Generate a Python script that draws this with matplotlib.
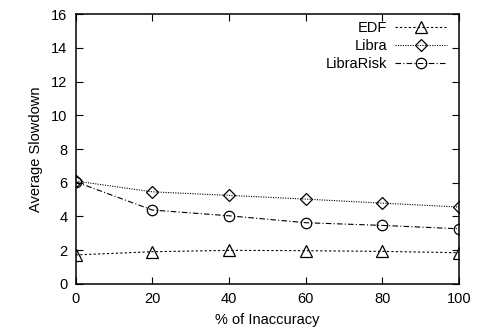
import matplotlib
matplotlib.use("Agg")
import matplotlib.pyplot as plt

plt.rcParams["font.family"] = ["Liberation Sans", "DejaVu Sans"]

# % of inaccuracy
inaccuracy = [0, 20, 40, 60, 80, 100]
edf = [1.72, 1.91, 1.99, 1.97, 1.93, 1.85]
libra = [6.10, 5.46, 5.25, 5.03, 4.79, 4.56]
libra_risk = [6.05, 4.38, 4.04, 3.63, 3.47, 3.27]

fig = plt.figure(figsize=(4.8, 3.36), dpi=100)
ax = fig.add_axes([0.158, 0.155, 0.798, 0.803])

common = dict(color="black", lw=0.8, markerfacecolor="none", markeredgecolor="black",
              markeredgewidth=0.9)
ax.plot(inaccuracy, edf, linestyle=(0, (2, 2)), marker="^", markersize=8,
        label="EDF", **common)
ax.plot(inaccuracy, libra, linestyle=(0, (1, 1.2)), marker="D", markersize=6,
        label="Libra", **common)
ax.plot(inaccuracy, libra_risk, linestyle=(0, (5, 2, 1, 2)), marker="o", markersize=7.5,
        label="LibraRisk", **common)

ax.set_xlim(0, 100)
ax.set_ylim(0, 16)
ax.set_xticks(inaccuracy)
ax.set_yticks(range(0, 17, 2))
ax.tick_params(direction="in", top=True, right=True, labelsize=10.5, length=5, width=0.8, pad=6)
for s in ax.spines.values():
    s.set_linewidth(1.1)
ax.set_xlabel("% of Inaccuracy", fontsize=10.5, labelpad=5)
ax.set_ylabel("Average Slowdown", fontsize=10.5, labelpad=6)

leg = ax.legend(loc="upper right", bbox_to_anchor=(0.969, 0.974), frameon=False,
                markerfirst=False, fontsize=10.5, handlelength=3.6, labelspacing=0.28,
                borderaxespad=0, handletextpad=0.5, borderpad=0)
# right-align the label column, gnuplot style
for col in leg._legend_box.get_children()[1].get_children():
    col.align = "right"

fig.savefig("out.png", dpi=100)
